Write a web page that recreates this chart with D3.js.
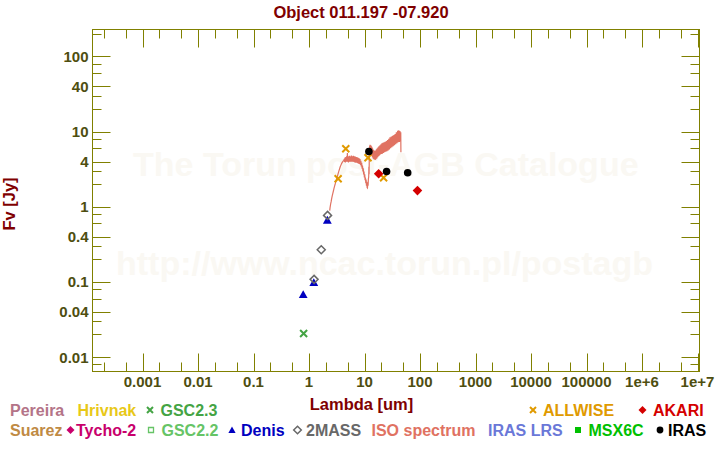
<!DOCTYPE html>
<html><head><meta charset="utf-8">
<script src="https://cdn.jsdelivr.net/npm/d3@7"></script>
<style>
html,body{margin:0;padding:0;background:#fff;}
svg{display:block;font-family:"Liberation Sans",Arial,Helvetica,sans-serif;font-weight:bold;}
</style></head><body>
<svg id="c" width="720" height="450"></svg>
<script>
// ---------------- data ----------------
const title = "Object 011.197 -07.920";
const xTitle = "Lambda [um]";
const yTitle = "Fv [Jy]";
const watermark1 = "The Torun post-AGB Catalogue";
const watermark2 = "http://www.ncac.torun.pl/postagb";

const xTickValues = [1e-3, 1e-2, 1e-1, 1, 10, 100, 1000, 1e4, 1e5, 1e6, 1e7];
const xTickLabels = ["0.001", "0.01", "0.1", "1", "10", "100", "1000", "10000", "100000", "1e+6", "1e+7"];
const yTickValues = [100, 40, 10, 4, 1, 0.4, 0.1, 0.04, 0.01];
const yTickLabels = ["100", "40", "10", "4", "1", "0.4", "0.1", "0.04", "0.01"];

const allwiseLam = [3.35, 4.6, 11.56, 22.09];
const allwiseF   = [2.36, 5.92, 4.49, 2.43];
const irasLam = [12, 25, 60];
const irasF   = [5.45, 2.95, 2.84];
const akariLam = [18, 90];
const akariF   = [2.75, 1.64];
const twomassLam = [1.235, 1.662, 2.159];
const twomassF   = [0.108, 0.268, 0.767];
const denisLam = [0.786, 1.22, 2.14];
const denisF   = [0.071, 0.1026, 0.693];
const gsc23Lam = [0.8];
const gsc23F   = [0.0205];

const isoLam = [2.36,2.40,2.45,2.50,2.56,2.62,2.68,2.75,2.82,2.90,2.98,3.06,3.15,3.25,3.35,3.45,3.55,3.65,3.76,3.88,4.00,4.12,4.25,
 4.32,4.38,4.45,4.52,4.60,4.68,4.76,4.84,4.92,4.98,5.06,5.14,5.22,5.30,5.40,5.50,5.60,5.70,5.82,5.94,6.06,6.18,6.30,6.42,6.55,6.68,6.82,6.96,
 7.10,7.25,7.40,7.55,7.70,7.85,8.00,8.15,8.30,8.45,8.60,8.75,8.90,9.05,9.20,9.35,9.50,9.65,9.80,9.95,10.10,10.25,10.40,10.55,10.70,10.85,
 11.00,11.15,11.30,11.45,11.60,11.75,11.90,12.00,12.10,12.20,
 12.30,12.40,12.50,12.60,12.75,12.90,13.05,13.20,13.35,13.50,13.65,13.80,13.95,14.10,14.30,14.50,14.70,14.90,15.10,15.35,15.60,15.85,
 16.10,16.40,16.70,17.00,17.30,17.60,17.90,18.20,18.60,19.00,19.40,19.80,20.20,20.60,21.00,21.50,22.00,22.50,23.00,23.60,24.20,24.80,
 25.40,26.00,26.70,27.40,28.10,28.80,29.60,30.40,31.20,32.00,32.90,33.80,34.70,35.60,36.50,37.50,38.50,39.50,40.50,41.50,42.50,43.50,
 44.30,45.00,45.30];
const isoF = [0.89,0.98,1.08,1.16,1.28,1.40,1.50,1.62,1.76,1.90,2.04,2.20,2.38,2.56,2.76,2.98,3.18,3.40,3.58,3.78,3.92,4.05,4.15,
 4.35,3.95,4.50,3.90,4.60,4.00,4.70,3.95,5.20,4.05,4.65,3.90,4.70,4.00,4.75,3.95,4.65,4.05,4.80,3.95,4.70,4.00,4.75,3.95,4.70,3.90,4.65,3.85,
 4.60,3.85,4.55,3.80,4.50,3.75,4.40,3.70,4.30,3.60,4.10,3.45,3.85,3.20,3.55,2.95,3.25,2.70,2.95,2.45,2.70,2.25,2.45,2.05,2.30,1.90,
 2.15,1.80,1.78,2.10,1.90,2.35,2.50,3.40,2.70,4.60,
 5.40,6.50,5.20,6.70,5.00,6.60,4.90,6.50,4.80,6.30,4.70,6.10,4.55,5.90,4.40,5.70,4.30,5.60,4.25,5.55,4.20,5.60,
 4.30,5.80,4.40,6.00,4.55,6.20,4.70,6.40,4.80,6.60,4.95,6.80,5.05,7.00,5.10,7.10,5.20,7.20,5.30,7.30,5.40,7.50,
 5.50,7.70,5.60,8.00,5.80,8.40,6.00,8.60,6.20,8.80,6.40,9.00,6.60,9.30,6.80,9.80,7.00,10.3,7.20,10.4,7.30,10.2,
 7.40,9.80,5.30];

// legend
const legendNames  = ["Pereira","Hrivnak","GSC2.3","ALLWISE","AKARI",
                      "Suarez","Tycho-2","GSC2.2","Denis","2MASS","ISO spectrum","IRAS LRS","MSX6C","IRAS"];
const legendColors = ["#b47488","#e8c818","#44a444","#e09a00","#d40000",
                      "#c08a44","#c8006c","#66c466","#0000c0","#686868","#e07262","#6a78d8","#00c000","#000000"];
const legendSymbols = ["","","cross","cross","diamond",
                       "","diamond","square","triangle","odiamond","","","fsquare","circle"];

// ---------------- layout ----------------
const W = 720, H = 450;
const L = 92.5, R = 699.5, T = 29.5, B = 371.5;
const legendLayout = [
  {row:0, tx:10}, {row:0, tx:77.5}, {row:0, tx:160.5, sx:150}, {row:0, tx:543, sx:533}, {row:0, tx:653, sx:642.5},
  {row:1, tx:10}, {row:1, tx:76, sx:70.5}, {row:1, tx:161.5, sx:151}, {row:1, tx:241, sx:232}, {row:1, tx:306, sx:297.5},
  {row:1, tx:371.5}, {row:1, tx:488}, {row:1, tx:588.5, sx:578}, {row:1, tx:668, sx:660}
];
const rowY = [415.5, 435.5];

const svg = d3.select("#c");
svg.append("rect").attr("width", W).attr("height", H).attr("fill", "#fff");

const x = d3.scaleLog().domain([Math.pow(10, -3.9009), Math.pow(10, 7.036)]).range([L, R]);
const y = d3.scaleLog().domain([Math.pow(10, -2.193), Math.pow(10, 2.3594)]).range([B, T]);

// watermark
svg.append("text").attr("x", 133).attr("y", 175.5).attr("font-size", 34).attr("fill", "#faf8f3").text(watermark1);
svg.append("text").attr("x", 116).attr("y", 274.5).attr("font-size", 34).attr("fill", "#faf8f3").text(watermark2);

// titles
svg.append("text").attr("x", 361).attr("y", 17.5).attr("text-anchor", "middle")
  .attr("font-size", 16.5).attr("fill", "#800000").text(title);
svg.append("text").attr("x", 361.5).attr("y", 410).attr("text-anchor", "middle")
  .attr("font-size", 16.5).attr("fill", "#800000").text(xTitle);
svg.append("text").attr("transform", "translate(15,204) rotate(-90)").attr("text-anchor", "middle")
  .attr("font-size", 16.5).attr("fill", "#800000").text(yTitle);

// frame and ticks
const axisCol = "#808000";
const g = svg.append("g");
g.append("rect").attr("x", L).attr("y", T).attr("width", R - L).attr("height", B - T)
  .attr("fill", "none").attr("stroke", axisCol).attr("stroke-width", 1);

const xMinor = [], yMinor = [];
for (let e = -4; e <= 7; e++) {
  [2, 5].forEach(m => { const v = m * Math.pow(10, e); const px = x(v); if (px > L + 1 && px < R - 1) xMinor.push(v); });
  [2, 3, 6, 8].forEach(m => { const v = m * Math.pow(10, e); const py = y(v); if (py > T + 1 && py < B - 1) yMinor.push(v); });
}
const xMaj = xTickValues.filter(v => x(v) >= L && x(v) <= R);

const tickG = g.append("g").attr("stroke", axisCol).attr("stroke-width", 1);
function xt(vals, len) {
  vals.forEach(v => {
    const px = Math.round(x(v)) + 0.5;
    tickG.append("line").attr("x1", px).attr("x2", px).attr("y1", B).attr("y2", B - len);
    tickG.append("line").attr("x1", px).attr("x2", px).attr("y1", T).attr("y2", T + len);
  });
}
function yt(vals, len) {
  vals.forEach(v => {
    const py = Math.round(y(v)) + 0.5;
    tickG.append("line").attr("y1", py).attr("y2", py).attr("x1", L).attr("x2", L + len);
    tickG.append("line").attr("y1", py).attr("y2", py).attr("x1", R).attr("x2", R - len);
  });
}
xt(xMaj, 18); xt(xMinor, 9);
yt(yTickValues, 18); yt(yMinor, 9);

const labCol = "#4e4e10";
xTickValues.forEach((v, i) => {
  svg.append("text").attr("x", x(v)).attr("y", 386.5).attr("text-anchor", "middle")
    .attr("font-size", 15).attr("fill", labCol).text(xTickLabels[i]);
});
yTickValues.forEach((v, i) => {
  svg.append("text").attr("x", 88.5).attr("y", y(v) + 5.5).attr("text-anchor", "end")
    .attr("font-size", 15).attr("fill", labCol).text(yTickLabels[i]);
});

// ---------------- data marks ----------------
const plot = svg.append("g");

const isoData = isoLam.map((l, i) => [l, isoF[i]]);
plot.append("path").datum(isoData)
  .attr("d", d3.line().x(d => x(d[0])).y(d => y(d[1])))
  .attr("fill", "none").attr("stroke", "#e07262").attr("stroke-width", 1.2).attr("stroke-linejoin", "miter");

function crossPath(s) { return `M${-s},${-s}L${s},${s}M${-s},${s}L${s},${-s}`; }
function diamondPath(s) { return `M0,${-s}L${s},0L0,${s}L${-s},0Z`; }
function trianglePath(s) { return `M0,${-s}L${s},${s*0.8}L${-s},${s*0.8}Z`; }

gsc23Lam.forEach((l, i) => plot.append("path").attr("d", crossPath(3.5))
  .attr("transform", `translate(${x(l)},${y(gsc23F[i])})`).attr("stroke", "#44a444").attr("stroke-width", 2).attr("fill", "none"));
denisLam.forEach((l, i) => plot.append("path").attr("d", trianglePath(4.4))
  .attr("transform", `translate(${x(l)},${y(denisF[i]) + 1.5})`).attr("fill", "#0000c0"));
twomassLam.forEach((l, i) => plot.append("path").attr("d", diamondPath(4))
  .attr("transform", `translate(${x(l)},${y(twomassF[i])})`).attr("stroke", "#686868").attr("stroke-width", 1.5).attr("fill", "none"));
allwiseLam.forEach((l, i) => plot.append("path").attr("d", crossPath(3.5))
  .attr("transform", `translate(${x(l)},${y(allwiseF[i])})`).attr("stroke", "#e09a00").attr("stroke-width", 2).attr("fill", "none"));
akariLam.forEach((l, i) => plot.append("path").attr("d", diamondPath(4.8))
  .attr("transform", `translate(${x(l)},${y(akariF[i])})`).attr("fill", "#d40000"));
irasLam.forEach((l, i) => plot.append("circle").attr("r", 3.8)
  .attr("cx", x(l)).attr("cy", y(irasF[i])).attr("fill", "#000"));

// ---------------- legend ----------------
legendNames.forEach((name, i) => {
  const lay = legendLayout[i], col = legendColors[i], sym = legendSymbols[i];
  const yy = rowY[lay.row];
  svg.append("text").attr("x", lay.tx).attr("y", yy).attr("font-size", 16).attr("fill", col).text(name);
  if (!sym) return;
  const cy = yy - 5.5, cx = lay.sx;
  const s = svg.append("path").attr("transform", `translate(${cx},${cy})`);
  if (sym === "cross") s.attr("d", crossPath(3)).attr("stroke", col).attr("stroke-width", 2).attr("fill", "none");
  else if (sym === "diamond") s.attr("d", diamondPath(4)).attr("fill", col);
  else if (sym === "odiamond") s.attr("d", diamondPath(3.8)).attr("stroke", col).attr("stroke-width", 1.5).attr("fill", "none");
  else if (sym === "square") s.attr("d", "M-2.5,-2.5H2.5V2.5H-2.5Z").attr("stroke", col).attr("stroke-width", 1.3).attr("fill", "none");
  else if (sym === "fsquare") s.attr("d", "M-3,-3H3V3H-3Z").attr("fill", col);
  else if (sym === "triangle") s.attr("d", trianglePath(3.6)).attr("fill", col);
  else if (sym === "circle") s.attr("d", d3.symbol(d3.symbolCircle, 36)()).attr("fill", col);
});
</script>
</body></html>
